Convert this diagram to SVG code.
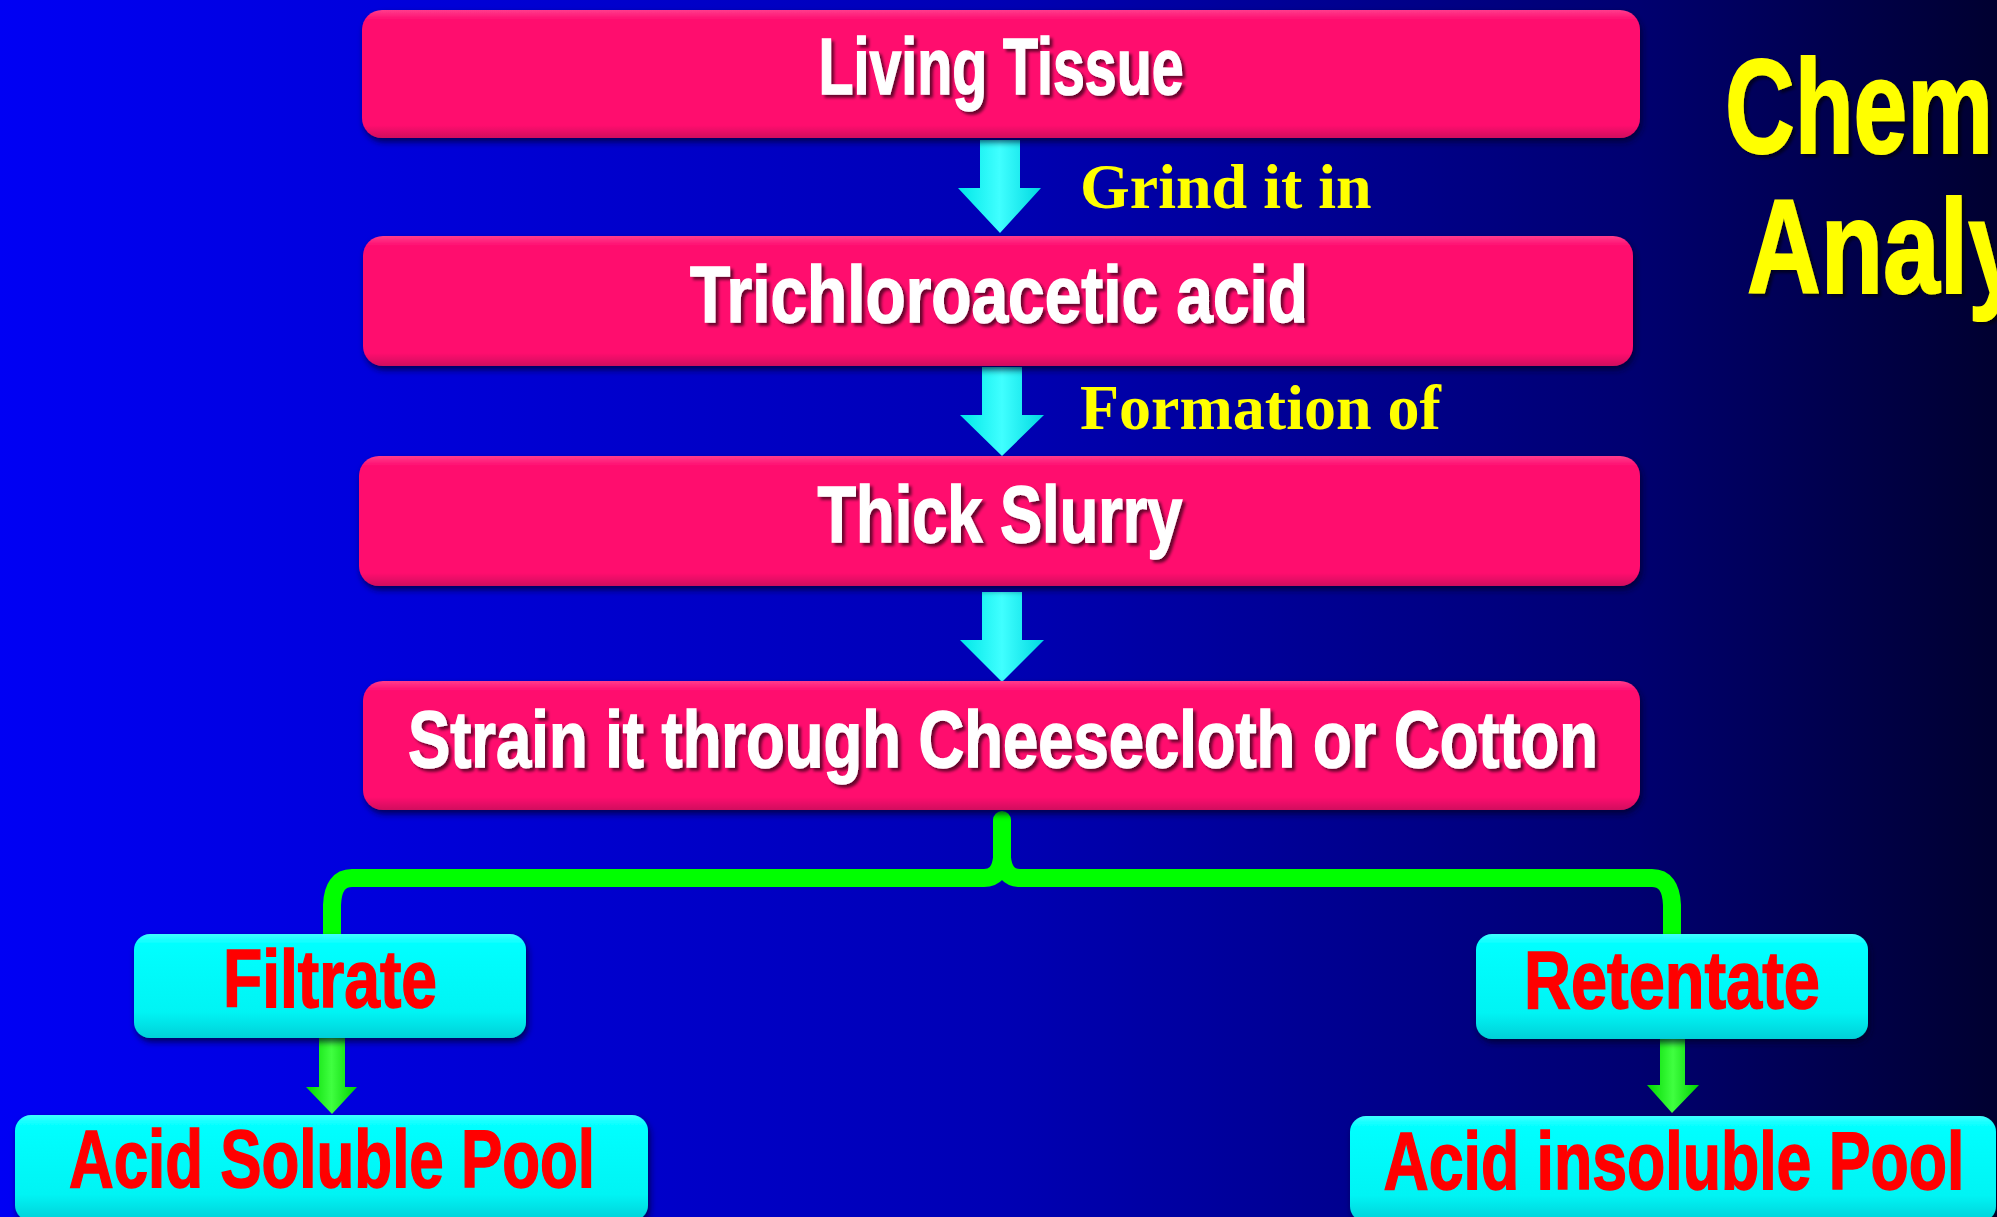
<svg xmlns="http://www.w3.org/2000/svg" width="1997" height="1217" viewBox="0 0 1997 1217">
<defs>
<linearGradient id="bg" x1="0" y1="0" x2="1" y2="0">
<stop offset="0" stop-color="#0000F4"/>
<stop offset="0.5" stop-color="#0000B4"/>
<stop offset="0.82" stop-color="#000070"/>
<stop offset="1" stop-color="#000030"/>
</linearGradient>
<linearGradient id="pink" x1="0" y1="0" x2="0" y2="1">
<stop offset="0" stop-color="#FF3C8C"/>
<stop offset="0.08" stop-color="#FF0A6E"/>
<stop offset="0.9" stop-color="#FF0A6E"/>
<stop offset="1" stop-color="#D0105E"/>
</linearGradient>
<linearGradient id="cyan" x1="0" y1="0" x2="0" y2="1">
<stop offset="0" stop-color="#40FFFF"/>
<stop offset="0.1" stop-color="#00FFFF"/>
<stop offset="0.75" stop-color="#00F4F4"/>
<stop offset="1" stop-color="#00D0D8"/>
</linearGradient>
<linearGradient id="carrow" x1="0" y1="0" x2="1" y2="0">
<stop offset="0" stop-color="#00E8E8"/>
<stop offset="0.5" stop-color="#40FFFF"/>
<stop offset="1" stop-color="#00D8E0"/>
</linearGradient>
<linearGradient id="garrow" x1="0" y1="0" x2="1" y2="0">
<stop offset="0" stop-color="#00D800"/>
<stop offset="0.5" stop-color="#40FF40"/>
<stop offset="1" stop-color="#00D000"/>
</linearGradient>
<filter id="tsh" x="-5%" y="-20%" width="110%" height="140%">
<feDropShadow dx="3" dy="3" stdDeviation="1.5" flood-color="#000" flood-opacity="0.6"/>
</filter>
<filter id="bsh" x="-5%" y="-20%" width="110%" height="140%">
<feDropShadow dx="2" dy="4" stdDeviation="3" flood-color="#000020" flood-opacity="0.7"/>
</filter>
</defs>
<style>
.pbox{fill:url(#pink);filter:url(#bsh)}
.cbox{fill:url(#cyan);filter:url(#bsh)}
.wt{font-family:"Liberation Sans Narrow","Liberation Sans",Arial,sans-serif;font-weight:bold;fill:#FFFFFF;stroke:#FFFFFF;stroke-width:1.5;text-anchor:middle;font-size:80px;filter:url(#tsh)}
.rt{font-family:"Liberation Sans Narrow","Liberation Sans",Arial,sans-serif;font-weight:bold;fill:#FF0000;stroke:#FF0000;stroke-width:1.5;text-anchor:middle;font-size:82px}
.yt{font-family:"Liberation Serif","Times New Roman",serif;font-weight:bold;fill:#FFFF00;font-size:64px}
.title{font-family:"Liberation Sans Narrow","Liberation Sans",Arial,sans-serif;font-weight:bold;fill:#FFFF00;stroke:#FFFF00;stroke-width:2;font-size:134px;filter:url(#tsh)}
.ca{fill:url(#carrow)}
.ga{fill:url(#garrow)}
.brace{fill:none;stroke:#00FF00;stroke-width:18;stroke-linecap:round;stroke-linejoin:round}
</style>
<rect x="0" y="0" width="1997" height="1217" fill="url(#bg)"/>

<g id="title">
<text class="title" x="1725" y="153" textLength="268" lengthAdjust="spacingAndGlyphs">Chem</text>
<text class="title" x="1747" y="293" textLength="278" lengthAdjust="spacingAndGlyphs">Analy</text>
</g>

<g id="connectors">
<polygon class="ca" points="980,140 1020,140 1020,188 1041,188 1000,233 958,188 980,188"/>
<polygon class="ca" points="982,367 1022,367 1022,415 1044,415 1002,456 960,415 982,415"/>
<polygon class="ca" points="982,592 1022,592 1022,640 1044,640 1002,682 960,640 982,640"/>
<path class="brace" d="M332,940 L332,905 Q333,878 352,878 L984,878 Q1000,878 1002,858 L1002,820 M1002,858 Q1004,878 1020,878 L1652,878 Q1671,878 1672,905 L1672,940"/>
<polygon class="ga" points="319,1036 345,1036 345,1087 357,1087 332,1114 306,1087 319,1087"/>
<polygon class="ga" points="1660,1037 1685,1037 1685,1085 1699,1085 1672,1113 1647,1085 1660,1085"/>
<text class="yt" x="1080" y="208">Grind it in</text>
<text class="yt" x="1080" y="429">Formation of</text>
</g>

<g id="living-tissue">
<rect class="pbox" x="362" y="10" width="1278" height="128" rx="20"/>
<text class="wt" x="1001" y="94" font-size="77" textLength="365" lengthAdjust="spacingAndGlyphs">Living Tissue</text>
</g>
<g id="trichloroacetic-acid">
<rect class="pbox" x="363" y="236" width="1270" height="130" rx="20"/>
<text class="wt" x="999" y="322" textLength="618" lengthAdjust="spacingAndGlyphs">Trichloroacetic acid</text>
</g>
<g id="thick-slurry">
<rect class="pbox" x="359" y="456" width="1281" height="130" rx="20"/>
<text class="wt" x="1000" y="542" textLength="365" lengthAdjust="spacingAndGlyphs">Thick Slurry</text>
</g>
<g id="strain">
<rect class="pbox" x="363" y="681" width="1277" height="129" rx="20"/>
<text class="wt" x="1003" y="767" textLength="1190" lengthAdjust="spacingAndGlyphs">Strain it through Cheesecloth or Cotton</text>
</g>

<g id="filtrate">
<rect class="cbox" x="134" y="934" width="392" height="104" rx="16"/>
<text class="rt" x="330" y="1007" textLength="214" lengthAdjust="spacingAndGlyphs">Filtrate</text>
</g>
<g id="retentate">
<rect class="cbox" x="1476" y="934" width="392" height="105" rx="16"/>
<text class="rt" x="1672" y="1008" textLength="296" lengthAdjust="spacingAndGlyphs">Retentate</text>
</g>
<g id="acid-soluble-pool">
<rect class="cbox" x="15" y="1115" width="633" height="106" rx="16"/>
<text class="rt" x="332" y="1187" textLength="526" lengthAdjust="spacingAndGlyphs">Acid Soluble Pool</text>
</g>
<g id="acid-insoluble-pool">
<rect class="cbox" x="1350" y="1116" width="646" height="106" rx="16"/>
<text class="rt" x="1674" y="1189" textLength="581" lengthAdjust="spacingAndGlyphs">Acid insoluble Pool</text>
</g>
</svg>
